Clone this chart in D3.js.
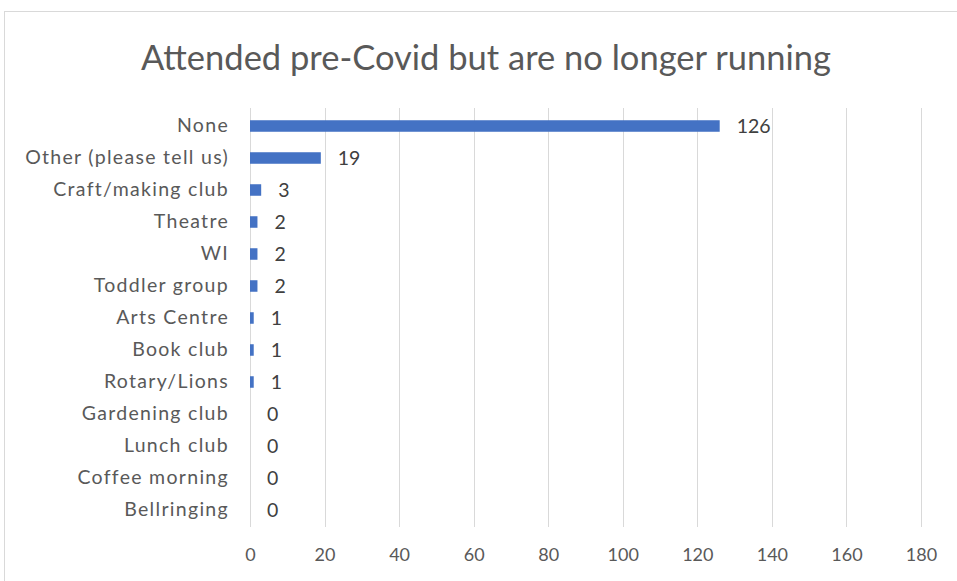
<!DOCTYPE html>
<html><head><meta charset="utf-8">
<script src="https://cdn.jsdelivr.net/npm/d3@7"></script>
<style>body{margin:0;background:#fff;} svg{display:block;}</style>
</head><body>
<svg id="c" width="957" height="581"></svg>
<script>
const categories = ["None","Other (please tell us)","Craft/making club","Theatre","WI","Toddler group","Arts Centre","Book club","Rotary/Lions","Gardening club","Lunch club","Coffee morning","Bellringing"];
const values = [126,19,3,2,2,2,1,1,1,0,0,0,0];
const ticks = [0,20,40,60,80,100,120,140,160,180];
const title = "Attended pre-Covid but are no longer running";

const svg = d3.select("#c");
const font = "Lato, 'Open Sans', sans-serif";
svg.append("rect").attr("x",4.5).attr("y",11.5).attr("width",1000).attr("height",1000)
  .attr("fill","#fff").attr("stroke","#d9d9d9");

const x = d3.scaleLinear().domain([0,180]).range([250,921]);
const y = d3.scaleBand().domain(categories).range([110,526]).paddingInner(0.64).paddingOuter(0.32);

svg.append("text").attr("x",486).attr("y",70).attr("text-anchor","middle")
  .attr("font-family",font).attr("font-size",34.5).attr("fill","#595959").text(title);

svg.append("g").selectAll("line").data(ticks).join("line")
  .attr("x1",d=>Math.round(x(d))+0.5).attr("x2",d=>Math.round(x(d))+0.5)
  .attr("y1",108).attr("y2",527).attr("stroke","#d9d9d9").attr("stroke-width",1);

const xa = svg.append("g").attr("transform","translate(0,540)")
  .call(d3.axisBottom(x).tickValues(ticks).tickSize(0).tickPadding(8));
xa.select(".domain").remove();
xa.selectAll("text").attr("font-family",font).attr("font-size",18).attr("fill","#595959");

const ya = svg.append("g").attr("transform","translate(241,0)")
  .call(d3.axisLeft(y).tickSize(0).tickPadding(12));
ya.select(".domain").remove();
ya.selectAll("text").attr("font-family",font).attr("font-size",19.5).attr("letter-spacing","1.3px").attr("fill","#595959");

svg.append("g").selectAll("rect").data(values).join("rect")
  .attr("x",x(0)).attr("y",(d,i)=>y(categories[i]))
  .attr("width",d=>x(d)-x(0)).attr("height",y.bandwidth()).attr("fill","#4472c4");

svg.append("g").selectAll("text").data(values).join("text")
  .attr("x",d=>x(d)+17).attr("y",(d,i)=>y(categories[i])+y.bandwidth()/2)
  .attr("dy","0.35em").attr("font-family",font).attr("font-size",19.5).attr("fill","#404040")
  .text(d=>d);
</script>
</body></html>
